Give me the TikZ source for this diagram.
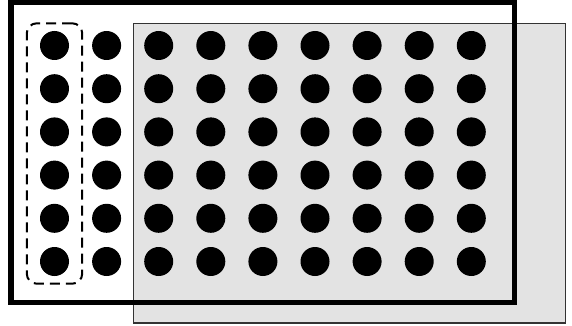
\documentclass[tikz,border=0pt]{standalone}
\usepackage{tikz}
\usepackage{xcolor}
\usetikzlibrary{positioning, fit}
\definecolor{ink}{HTML}{000000}
\definecolor{plate}{HTML}{E3E3E3}
\definecolor{edge}{HTML}{333333}
\tikzset{
  %
  well/.style={circle, fill=ink, draw=none, minimum size=29pt, inner sep=0pt},
  frame/.style={draw=ink, line width=5.5pt},
  tray/.style={draw=edge, line width=1.4pt, fill=plate},
  %
  group/.style={draw=ink, line width=2pt, dash pattern=on 10pt off 6pt,
                rounded corners=10pt, inner xsep=13pt, inner ysep=7.5pt},
}
\begin{document}
\begin{tikzpicture}[x=1pt, y=-1pt]
  \useasboundingbox (0,0) rectangle (572,326);

  % --- gray tray --------------------------------------------------------
  \draw[tray] (133.5,23.5) rectangle (565.5,323);

  % --- wells ------------------------------------------------------------
  \foreach \i in {0,...,8} {
    \foreach \j in {0,...,5} {
      \node[well] (w-\i-\j) at (54.5+52.1*\i, 45.5+43.2*\j) {};
    }
  }

  % --- frame ------------------------------------------------------------
  \draw[frame] (11,2.5) rectangle (514.5,302.5);

  % --- first column -----------------------------------------------------
  \node[group, fit=(w-0-0)(w-0-5)] (col) {};

\end{tikzpicture}
\end{document}
